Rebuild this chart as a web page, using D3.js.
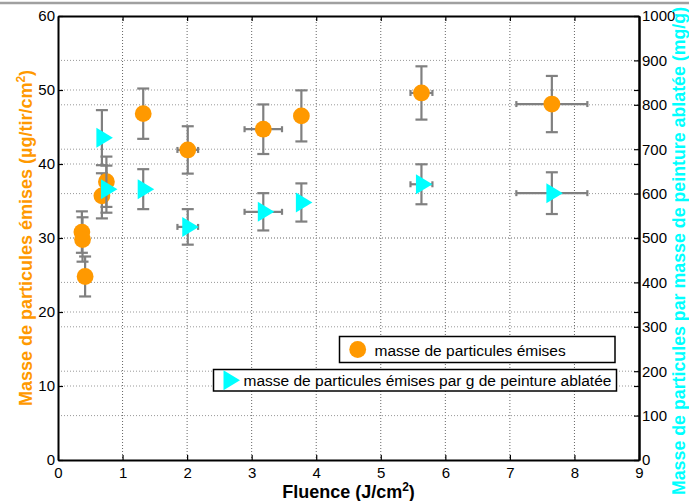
<!DOCTYPE html>
<html>
<head>
<meta charset="utf-8">
<script src="https://cdn.jsdelivr.net/npm/d3@7"></script>
<style>
  html, body { margin: 0; padding: 0; background: #fff; }
  svg { display: block; font-family: "Liberation Sans", Arial, Helvetica, sans-serif; }
</style>
</head>
<body>
<svg id="chart" width="689" height="501"></svg>
<script>
// Emitted particle mass (left axis, µg/tir/cm²) versus fluence
const massFluence    = [0.37, 0.38, 0.42, 0.68, 0.75, 1.32, 2.01, 3.18, 3.77, 5.63, 7.65];
const massValues     = [30.8, 29.8, 24.8, 35.7, 37.6, 46.8, 41.9, 44.7, 46.5, 49.6, 48.1];
const massErr        = [2.8, 3.0, 2.7, 3.05, 3.4, 3.4, 3.2, 3.35, 3.45, 3.6, 3.8];
const massFluenceErr = [0, 0, 0, 0, 0, 0, 0.16, 0.29, 0, 0.17, 0.55];

// Particle mass per gram of ablated paint (right axis, mg/g)
const ratioFluence    = [0.68, 0.75, 1.32, 2.01, 3.18, 3.77, 5.63, 7.65];
const ratioValues     = [726, 610, 610, 525, 559, 580, 621, 601];
const ratioErr        = [62, 53, 45, 40, 42, 43, 45, 47];
const ratioFluenceErr = [0, 0, 0, 0.16, 0.29, 0, 0.17, 0.55];

// Axis ticks
const xTicks     = [0, 1, 2, 3, 4, 5, 6, 7, 8, 9];
const leftTicks  = [0, 10, 20, 30, 40, 50, 60];
const rightTicks = [0, 100, 200, 300, 400, 500, 600, 700, 800, 900, 1000];

// Texts
const xTitle      = ["Fluence (J/cm", "2", ")"];
const leftTitle   = ["Masse de particules émises (µg/tir/cm", "2", ")"];
const rightTitle  = "Masse de particules par masse de peinture ablatée (mg/g)";
const legendMass  = "masse de particules émises";
const legendRatio = "masse de particules émises par g de peinture ablatée";

const ORANGE = "#FF9900", CYAN = "#00FFFF", BAR = "#808080";

const svg = d3.select("#chart");
const W = 689, H = 501;
const plot = { left: 58, right: 639, top: 16, bottom: 460 };

const x  = d3.scaleLinear().domain([0, 9]).range([plot.left, plot.right]);
const yL = d3.scaleLinear().domain([0, 60]).range([plot.bottom, plot.top]);
const yR = d3.scaleLinear().domain([0, 1000]).range([plot.bottom, plot.top]);

// thin gray rule along the top edge of the figure
svg.append("line").attr("x1", 0).attr("x2", W).attr("y1", 3).attr("y2", 3)
  .attr("stroke", "#a0a0a0").attr("stroke-width", 2.5);

// grid
const grid = svg.append("g").attr("fill", "none").attr("stroke-width", 1).attr("stroke-dasharray", "1,2");
grid.selectAll(".gx").data(xTicks.slice(1, -1)).join("line")
  .attr("x1", d => x(d)).attr("x2", d => x(d))
  .attr("y1", plot.top).attr("y2", plot.bottom).attr("stroke", "#666");
grid.selectAll(".gl").data(leftTicks.slice(1, -1)).join("line")
  .attr("x1", plot.left).attr("x2", plot.right)
  .attr("y1", d => yL(d)).attr("y2", d => yL(d)).attr("stroke", "#999");
grid.selectAll(".gr").data(rightTicks.slice(1, -1)).join("line")
  .attr("x1", plot.left).attr("x2", plot.right)
  .attr("y1", d => yR(d)).attr("y2", d => yR(d)).attr("stroke", "#999");

// error bars + markers
function drawSeries(fx, vals, err, ferr, y, marker, color) {
  const g = svg.append("g");
  const data = vals.map((v, i) => ({ f: fx[i], v, e: err[i], fe: ferr[i] }));
  const bars = g.append("g").attr("stroke", BAR).attr("stroke-width", 2.2).attr("fill", "none");
  data.forEach(d => {
    const cx = x(d.f), cy = y(d.v);
    const y1 = y(d.v + d.e), y2 = y(d.v - d.e);
    bars.append("line").attr("x1", cx).attr("x2", cx).attr("y1", y1).attr("y2", y2);
    bars.append("line").attr("x1", cx - 6).attr("x2", cx + 6).attr("y1", y1).attr("y2", y1);
    bars.append("line").attr("x1", cx - 6).attr("x2", cx + 6).attr("y1", y2).attr("y2", y2);
    if (d.fe > 0) {
      const x1 = x(d.f - d.fe), x2 = x(d.f + d.fe);
      bars.append("line").attr("x1", x1).attr("x2", x2).attr("y1", cy).attr("y2", cy);
      bars.append("line").attr("x1", x1).attr("x2", x1).attr("y1", cy - 3).attr("y2", cy + 3);
      bars.append("line").attr("x1", x2).attr("x2", x2).attr("y1", cy - 3).attr("y2", cy + 3);
    }
  });
  data.forEach(d => marker(g, x(d.f), y(d.v), color));
}
const circle = (g, cx, cy, c) => g.append("circle").attr("cx", cx).attr("cy", cy).attr("r", 8.4).attr("fill", c);
const triangle = (g, cx, cy, c) => g.append("path")
  .attr("d", `M${cx - 5.5},${cy - 10}L${cx + 11},${cy}L${cx - 5.5},${cy + 10}Z`).attr("fill", c);

drawSeries(massFluence, massValues, massErr, massFluenceErr, yL, circle, ORANGE);
drawSeries(ratioFluence, ratioValues, ratioErr, ratioFluenceErr, yR, triangle, CYAN);

// axes
const fontTick = "15px";
function styleAxis(g) {
  g.selectAll(".domain").attr("stroke", "#000").attr("stroke-width", 2);
  g.selectAll(".tick line").attr("stroke", "#000").attr("stroke-width", 1.2);
  g.selectAll("text").attr("fill", "#000").style("font-size", fontTick)
    .style("font-family", "'Liberation Sans', Arial, sans-serif");
}
svg.append("g").attr("transform", `translate(0,${plot.bottom})`)
  .call(d3.axisBottom(x).tickValues(xTicks).tickFormat(d3.format("d")).tickSize(-5).tickSizeOuter(0).tickPadding(7))
  .call(styleAxis);
svg.append("g").attr("transform", `translate(0,${plot.top})`)
  .call(d3.axisTop(x).tickValues(xTicks).tickFormat("").tickSize(-5).tickSizeOuter(0))
  .call(styleAxis);
svg.append("g").attr("transform", `translate(${plot.left},0)`)
  .call(d3.axisLeft(yL).tickValues(leftTicks).tickFormat(d3.format("d")).tickSize(-5).tickSizeOuter(0).tickPadding(3))
  .call(styleAxis);
// left-axis ticks mirrored on the right side
svg.append("g").attr("transform", `translate(${plot.right},0)`)
  .call(d3.axisRight(yL).tickValues(leftTicks).tickFormat("").tickSize(-5).tickSizeOuter(0))
  .call(styleAxis);
svg.append("g").attr("transform", `translate(${plot.right},0)`)
  .call(d3.axisRight(yR).tickValues(rightTicks).tickFormat(d3.format("d")).tickSize(-5).tickSizeOuter(0).tickPadding(3))
  .call(styleAxis);

// axis titles
function titleWithSup(g, parts, anchorX, anchorY, rot, color) {
  const t = g.append("text")
    .attr("transform", `translate(${anchorX},${anchorY}) rotate(${rot})`)
    .attr("text-anchor", "middle").attr("fill", color)
    .style("font-weight", "bold").style("font-size", "18px");
  t.append("tspan").text(parts[0]);
  t.append("tspan").attr("dy", -7).style("font-size", "12px").text(parts[1]);
  t.append("tspan").attr("dy", 7).text(parts[2]);
  return t;
}
titleWithSup(svg, xTitle, (plot.left + plot.right) / 2, 498, 0, "#000");
titleWithSup(svg, leftTitle, 31.5, 238, -90, ORANGE);
svg.append("text")
  .attr("transform", `translate(684.5,251) rotate(-90)`)
  .attr("text-anchor", "middle").attr("fill", CYAN)
  .style("font-weight", "bold").style("font-size", "17.8px")
  .text(rightTitle);

// legends
const leg = svg.append("g").style("font-size", "15.5px");
leg.append("rect").attr("x", 339.5).attr("y", 336.5).attr("width", 275.5).attr("height", 26)
  .attr("fill", "#fff").attr("stroke", "#000").attr("stroke-width", 1.5);
circle(leg, 357.7, 349.5, ORANGE);
leg.append("text").attr("x", 374.5).attr("y", 355.5).attr("fill", "#000").text(legendMass);

leg.append("rect").attr("x", 213.5).attr("y", 369.5).attr("width", 403).attr("height", 21.5)
  .attr("fill", "#fff").attr("stroke", "#000").attr("stroke-width", 1.5);
triangle(leg, 229, 380.2, CYAN);
leg.append("text").attr("x", 243.5).attr("y", 386).attr("fill", "#000").text(legendRatio);
</script>
</body>
</html>
